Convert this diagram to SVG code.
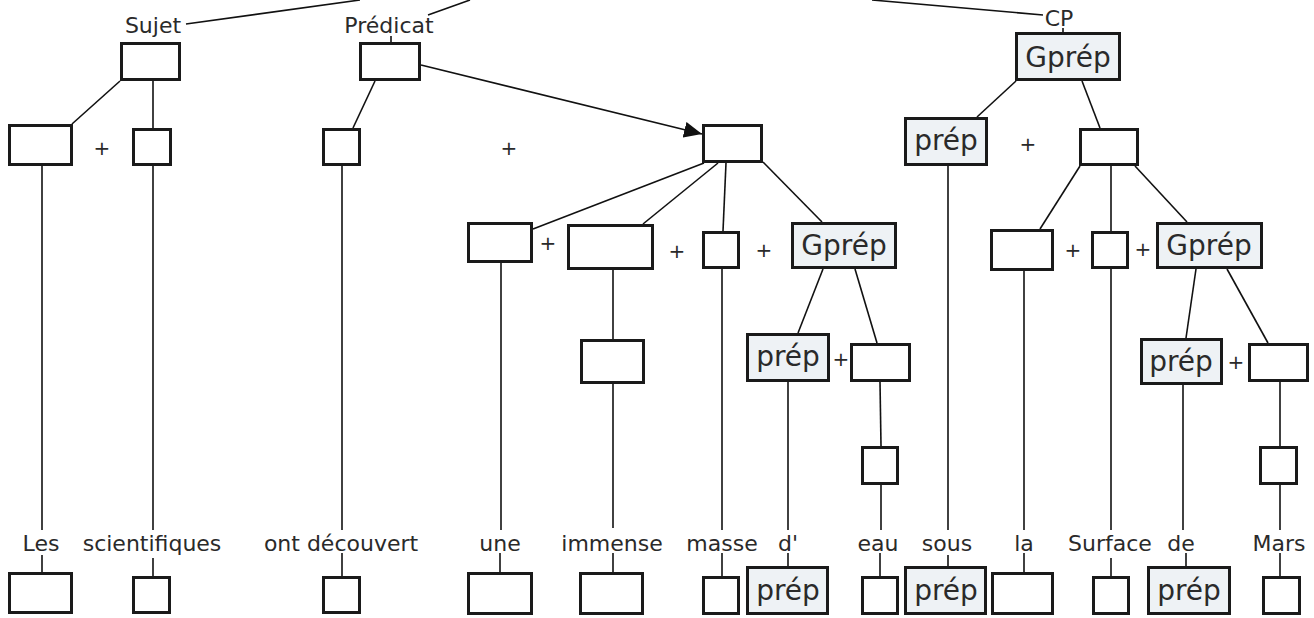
<svg xmlns="http://www.w3.org/2000/svg" width="1314" height="618" viewBox="0 0 1314 618">
<style>
.b{fill:#ffffff;stroke:#1a1a1a;stroke-width:3}
.g{fill:#eef2f5;stroke:#1a1a1a;stroke-width:3}
.w{font-family:"DejaVu Sans",Verdana,sans-serif;font-size:22px;fill:#2a2a2a;text-anchor:middle}
.L{font-family:"DejaVu Sans",Verdana,sans-serif;font-size:28px;fill:#2a2a2a;text-anchor:middle}
.p{font-family:"DejaVu Sans",Verdana,sans-serif;font-size:20px;fill:#2a2a2a;text-anchor:middle}
.c line{stroke:#111;stroke-width:1.6}
</style>
<defs>
<marker id="ah" markerUnits="userSpaceOnUse" markerWidth="18" markerHeight="16" refX="18" refY="8" orient="auto" viewBox="0 0 18 16">
<path d="M0,0 L18,8 L0,16 z" fill="#111"/>
</marker>
</defs>
<rect width="1314" height="618" fill="#ffffff"/>
<g id="connectors" class="c">
<line x1="360" y1="0" x2="186" y2="24"/>
<line x1="470" y1="0" x2="428" y2="15"/>
<line x1="872" y1="0" x2="1043" y2="15"/>
<line x1="391" y1="36" x2="391" y2="42"/>
<line x1="1063" y1="28" x2="1063" y2="32"/>
<line x1="120" y1="81" x2="72" y2="124"/>
<line x1="153" y1="81" x2="153" y2="128"/>
<line x1="375" y1="81" x2="353" y2="128"/>
<line x1="421" y1="65" x2="702" y2="134" marker-end="url(#ah)"/>
<line x1="704" y1="163" x2="533" y2="229"/>
<line x1="718" y1="163" x2="643" y2="224"/>
<line x1="726" y1="163" x2="723" y2="231"/>
<line x1="763" y1="162" x2="822" y2="222"/>
<line x1="613" y1="270" x2="613" y2="339"/>
<line x1="823" y1="269" x2="798" y2="333"/>
<line x1="855" y1="269" x2="877" y2="343"/>
<line x1="880" y1="382" x2="881" y2="446"/>
<line x1="1016" y1="81" x2="977" y2="117"/>
<line x1="1082" y1="81" x2="1100" y2="128"/>
<line x1="1080" y1="166" x2="1040" y2="229"/>
<line x1="1111" y1="166" x2="1111" y2="231"/>
<line x1="1135" y1="166" x2="1187" y2="222"/>
<line x1="1196" y1="269" x2="1186" y2="338"/>
<line x1="1227" y1="269" x2="1268" y2="343"/>
<line x1="1280" y1="382" x2="1280" y2="446"/>
<line x1="42" y1="166" x2="42" y2="530"/>
<line x1="153" y1="166" x2="153" y2="530"/>
<line x1="342" y1="166" x2="342" y2="530"/>
<line x1="501" y1="263" x2="501" y2="530"/>
<line x1="613" y1="384" x2="613" y2="528"/>
<line x1="722" y1="269" x2="722" y2="530"/>
<line x1="788" y1="382" x2="788" y2="530"/>
<line x1="881" y1="485" x2="881" y2="530"/>
<line x1="948" y1="166" x2="948" y2="530"/>
<line x1="1024" y1="271" x2="1024" y2="530"/>
<line x1="1111" y1="269" x2="1111" y2="530"/>
<line x1="1183" y1="385" x2="1183" y2="530"/>
<line x1="1280" y1="485" x2="1280" y2="530"/>
<line x1="42" y1="555" x2="42" y2="572"/>
<line x1="153" y1="558" x2="153" y2="576"/>
<line x1="342" y1="553" x2="342" y2="576"/>
<line x1="500" y1="553" x2="500" y2="572"/>
<line x1="613" y1="553" x2="613" y2="572"/>
<line x1="722" y1="553" x2="722" y2="576"/>
<line x1="788" y1="553" x2="788" y2="566"/>
<line x1="880" y1="553" x2="880" y2="576"/>
<line x1="948" y1="555" x2="948" y2="566"/>
<line x1="1024" y1="553" x2="1024" y2="572"/>
<line x1="1111" y1="558" x2="1111" y2="576"/>
<line x1="1186" y1="553" x2="1186" y2="566"/>
<line x1="1280" y1="553" x2="1280" y2="576"/>
</g>
<g id="label-sujet"><text class="w" x="153" y="33">Sujet</text></g>
<g id="label-predicat"><text class="w" x="389" y="33">Prédicat</text></g>
<g id="label-cp"><text class="w" x="1059" y="26">CP</text></g>
<g id="n-sujet"><rect class="b" x="121.5" y="43.5" width="58" height="36"/></g>
<g id="n-pred"><rect class="b" x="360.5" y="43.5" width="59" height="36"/></g>
<g id="n-les1"><rect class="b" x="9.5" y="125.5" width="62" height="39"/></g>
<g id="n-sci1"><rect class="b" x="133.5" y="129.5" width="37" height="35"/></g>
<g id="n-ont1"><rect class="b" x="323.5" y="129.5" width="36" height="35"/></g>
<g id="n-gn"><rect class="b" x="703.5" y="125.5" width="58" height="36"/></g>
<g id="n-une1"><rect class="b" x="468.5" y="223.5" width="63" height="38"/></g>
<g id="n-imm1"><rect class="b" x="568.5" y="225.5" width="84" height="43"/></g>
<g id="n-imm2"><rect class="b" x="581.5" y="340.5" width="62" height="42"/></g>
<g id="n-mas1"><rect class="b" x="703.5" y="232.5" width="35" height="35"/></g>
<g id="n-gprep1"><rect class="g" x="792.5" y="223.5" width="103" height="44"/><text class="L" x="844" y="255">Gprép</text></g>
<g id="n-prep1"><rect class="g" x="747.5" y="334.5" width="81" height="46"/><text class="L" x="788" y="366">prép</text></g>
<g id="n-eau1"><rect class="b" x="851.5" y="344.5" width="58" height="36"/></g>
<g id="n-eau2"><rect class="b" x="862.5" y="447.5" width="35" height="36"/></g>
<g id="n-cp"><rect class="g" x="1016.5" y="33.5" width="103" height="46"/><text class="L" x="1068" y="67">Gprép</text></g>
<g id="n-prep2"><rect class="g" x="905.5" y="118.5" width="81" height="46"/><text class="L" x="946" y="150">prép</text></g>
<g id="n-plus-prep2"><text class="p" x="1028" y="151">+</text></g>
<g id="n-gn2"><rect class="b" x="1080.5" y="129.5" width="57" height="35"/></g>
<g id="n-la1"><rect class="b" x="991.5" y="230.5" width="61" height="39"/></g>
<g id="n-surf1"><rect class="b" x="1092.5" y="232.5" width="35" height="35"/></g>
<g id="n-gprep3"><rect class="g" x="1157.5" y="223.5" width="104" height="44"/><text class="L" x="1209" y="255">Gprép</text></g>
<g id="n-prep3"><rect class="g" x="1141.5" y="339.5" width="80" height="44"/><text class="L" x="1181" y="371">prép</text></g>
<g id="n-mars1"><rect class="b" x="1249.5" y="344.5" width="58" height="36"/></g>
<g id="n-mars2"><rect class="b" x="1260.5" y="447.5" width="36" height="36"/></g>
<g id="plus-signs">
<text class="p" x="102" y="155">+</text>
<text class="p" x="509" y="155">+</text>
<text class="p" x="548" y="250">+</text>
<text class="p" x="677" y="258">+</text>
<text class="p" x="764" y="257">+</text>
<text class="p" x="841" y="366">+</text>
<text class="p" x="1073" y="257">+</text>
<text class="p" x="1143" y="256">+</text>
<text class="p" x="1236" y="369">+</text>
</g>
<g id="words">
<text class="w" x="41" y="551">Les</text>
<text class="w" x="152" y="551">scientifiques</text>
<text class="w" x="341" y="551">ont découvert</text>
<text class="w" x="500" y="551">une</text>
<text class="w" x="612" y="551">immense</text>
<text class="w" x="722" y="551">masse</text>
<text class="w" x="788" y="551">d'</text>
<text class="w" x="878" y="551">eau</text>
<text class="w" x="947" y="551">sous</text>
<text class="w" x="1024" y="551">la</text>
<text class="w" x="1110" y="551">Surface</text>
<text class="w" x="1181" y="551">de</text>
<text class="w" x="1279" y="551">Mars</text>
</g>
<g id="n-les2"><rect class="b" x="9.5" y="573.5" width="62" height="39"/></g>
<g id="n-sci2"><rect class="b" x="133.5" y="577.5" width="36" height="35"/></g>
<g id="n-ont2"><rect class="b" x="323.5" y="577.5" width="36" height="35"/></g>
<g id="n-une2"><rect class="b" x="468.5" y="573.5" width="63" height="40"/></g>
<g id="n-imm3"><rect class="b" x="580.5" y="573.5" width="62" height="40"/></g>
<g id="n-mas2"><rect class="b" x="703.5" y="577.5" width="35" height="36"/></g>
<g id="n-prep-d"><rect class="g" x="747.5" y="567.5" width="80" height="46"/><text class="L" x="788" y="600">prép</text></g>
<g id="n-eau3"><rect class="b" x="862.5" y="577.5" width="35" height="36"/></g>
<g id="n-prep-sous"><rect class="g" x="905.5" y="567.5" width="80" height="46"/><text class="L" x="946" y="600">prép</text></g>
<g id="n-la2"><rect class="b" x="992.5" y="573.5" width="60" height="40"/></g>
<g id="n-surf2"><rect class="b" x="1093.5" y="577.5" width="35" height="36"/></g>
<g id="n-prep-de"><rect class="g" x="1148.5" y="567.5" width="81" height="46"/><text class="L" x="1189" y="600">prép</text></g>
<g id="n-mars3"><rect class="b" x="1263.5" y="577.5" width="36" height="36"/></g>
</svg>
